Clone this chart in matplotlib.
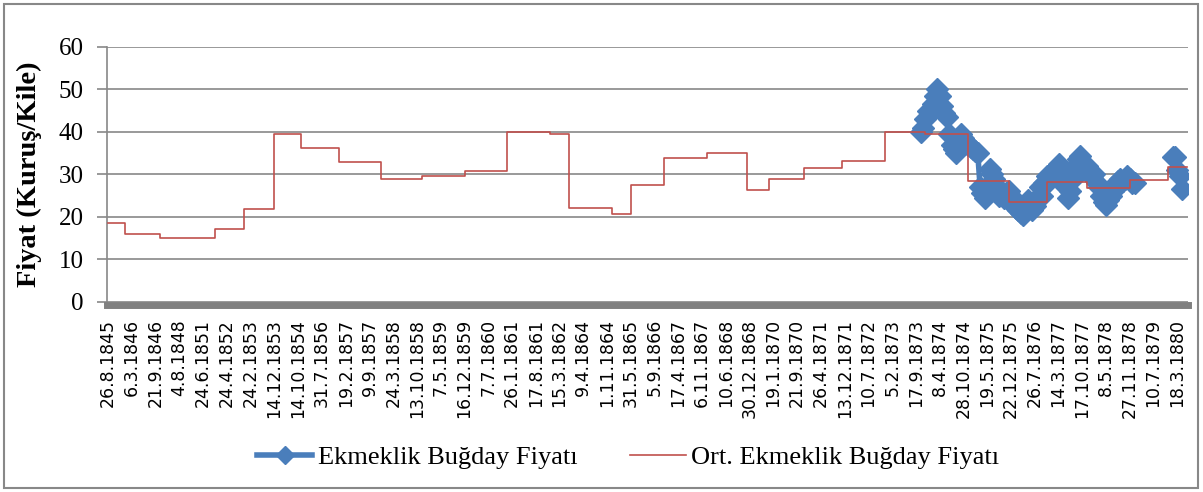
import numpy as np
import matplotlib
matplotlib.use("Agg")
import matplotlib.pyplot as plt
from matplotlib.lines import Line2D
from matplotlib.patches import Rectangle

# category axis: 455 observations, a date label every 10th one
N_CAT = 455
LABEL_STEP = 10
date_labels = [
    "26.8.1845", "6.3.1846", "21.9.1846", "4.8.1848", "24.6.1851", "24.4.1852",
    "24.2.1853", "14.12.1853", "14.10.1854", "31.7.1856", "19.2.1857", "9.9.1857",
    "24.3.1858", "13.10.1858", "7.5.1859", "16.12.1859", "7.7.1860", "26.1.1861",
    "17.8.1861", "15.3.1862", "9.4.1864", "1.11.1864", "31.5.1865", "5.9.1866",
    "17.4.1867", "6.11.1867", "10.6.1868", "30.12.1868", "19.1.1870", "21.9.1870",
    "26.4.1871", "13.12.1871", "10.7.1872", "5.2.1873", "17.9.1873", "8.4.1874",
    "28.10.1874", "19.5.1875", "22.12.1875", "26.7.1876", "14.3.1877", "17.10.1877",
    "8.5.1878", "27.11.1878", "10.7.1879", "18.3.1880",
]

# average price: observation index where each level starts, and the level
avg_start = [0, 7, 22, 45, 57, 70, 81, 97, 115, 132, 150, 168, 186, 194, 212,
             220, 234, 252, 269, 278, 293, 309, 327, 344, 362, 379, 395, 412,
             430, 446, 454]
avg_level = [18.6, 15.9, 15.0, 17.1, 21.8, 39.4, 36.2, 32.9, 28.9, 29.6, 30.8,
             39.9, 39.5, 22.1, 20.6, 27.5, 33.8, 35.0, 26.4, 28.9, 31.4, 33.1,
             39.9, 39.6, 28.4, 23.5, 28.1, 26.7, 28.6, 31.8, 31.8]

# observed prices (only the later period has them)
price_idx = list(range(342, 433)) + [440] + list(range(448, 453))
price_val = [
    40, 41, 43, 45, 44.5, 46.5, 48.5, 50, 48.5, 46, 44.5, 43.5, 39.5, 37, 36, 35,
    38, 39.5, 38.5, 37.5, 37, 36.5, 36, 35.5, 35, 27, 25.5, 24.5, 26, 31.3, 30,
    29, 27, 25, 26, 24.5, 25.5, 26, 25, 23, 22, 21.5, 21, 20.5, 22, 24, 22.5,
    21.5, 22.5, 24.5, 27, 25, 28, 29.5, 28.5, 30, 31, 31.5, 32.5, 30.5, 29, 27,
    24.5, 26, 29, 32, 33.5, 34.3, 33, 31.5, 32, 30, 29.5, 30, 28, 27, 25, 23.5,
    22.8, 24, 25, 26, 27.5, 28.5, 29, 28.5, 29, 29.5, 29, 28, 28,
    np.nan,
    34, 34, 31, 29.5, 26.5,
]

BLUE = "#4A7EBB"
RED = "#C0504D"
GRID = "#888888"

fig = plt.figure(figsize=(12.03, 4.92), dpi=100)
ax = fig.add_axes([107 / 1203, 1 - 301.7 / 492, 1081 / 1203, 254.7 / 492])

ax.plot(price_idx, price_val, "-D", color=BLUE, lw=4, ms=11, mec=BLUE,
        zorder=3)
ax.step(avg_start, avg_level, where="post", color=RED, lw=1.2, zorder=4)

ax.set_xlim(-0.5, N_CAT - 0.5)
ax.set_ylim(0, 60)
ax.set_yticks(range(0, 61, 10))
ax.yaxis.grid(True, color=GRID, lw=1.2)
ax.set_axisbelow(True)

ax.set_xticks(range(0, N_CAT, LABEL_STEP))
ax.set_xticklabels(date_labels)
ax.tick_params(axis="x", length=0, pad=10, labelrotation=90, labelsize=12.5)
ax.tick_params(axis="y", length=7, width=1.2, color=GRID, pad=10, labelsize=18)
for lab in ax.get_xticklabels():
    lab.set_family("DejaVu Sans")
    lab.set_verticalalignment("top")
for lab in ax.get_yticklabels():
    lab.set_family("Liberation Serif")

for s in ("top", "right"):
    ax.spines[s].set_visible(False)
ax.spines["left"].set_color(GRID)
ax.spines["left"].set_linewidth(1.2)
ax.spines["bottom"].set_color("#808080")
ax.spines["bottom"].set_linewidth(5)
ax.spines["bottom"].set_position(("outward", 2.5))

fig.text(29.5 / 1203, 1 - 174 / 492, "Fiyat (Kuruş/Kile)", rotation=90,
         ha="center", va="center", family="Liberation Serif",
         fontweight="bold", fontsize=20.5)

handles = [
    Line2D([], [], color=BLUE, lw=4, marker="D", ms=9),
    Line2D([], [], color=RED, lw=1.2),
]
fig.legend(handles, ["Ekmeklik Buğday Fiyatı", "Ort. Ekmeklik Buğday Fiyatı"],
           loc="center", bbox_to_anchor=(0.522, 1 - 457 / 492), ncol=2,
           frameon=False, prop={"family": "Liberation Serif", "size": 19},
           handlelength=2.1, handletextpad=0.2, columnspacing=2.0)

fig.add_artist(Rectangle((4 / 1203, 4 / 492), 1194 / 1203, 484 / 492,
                         transform=fig.transFigure, fill=False,
                         ec="#888888", lw=1.5))

fig.savefig("out.png", dpi=100)
